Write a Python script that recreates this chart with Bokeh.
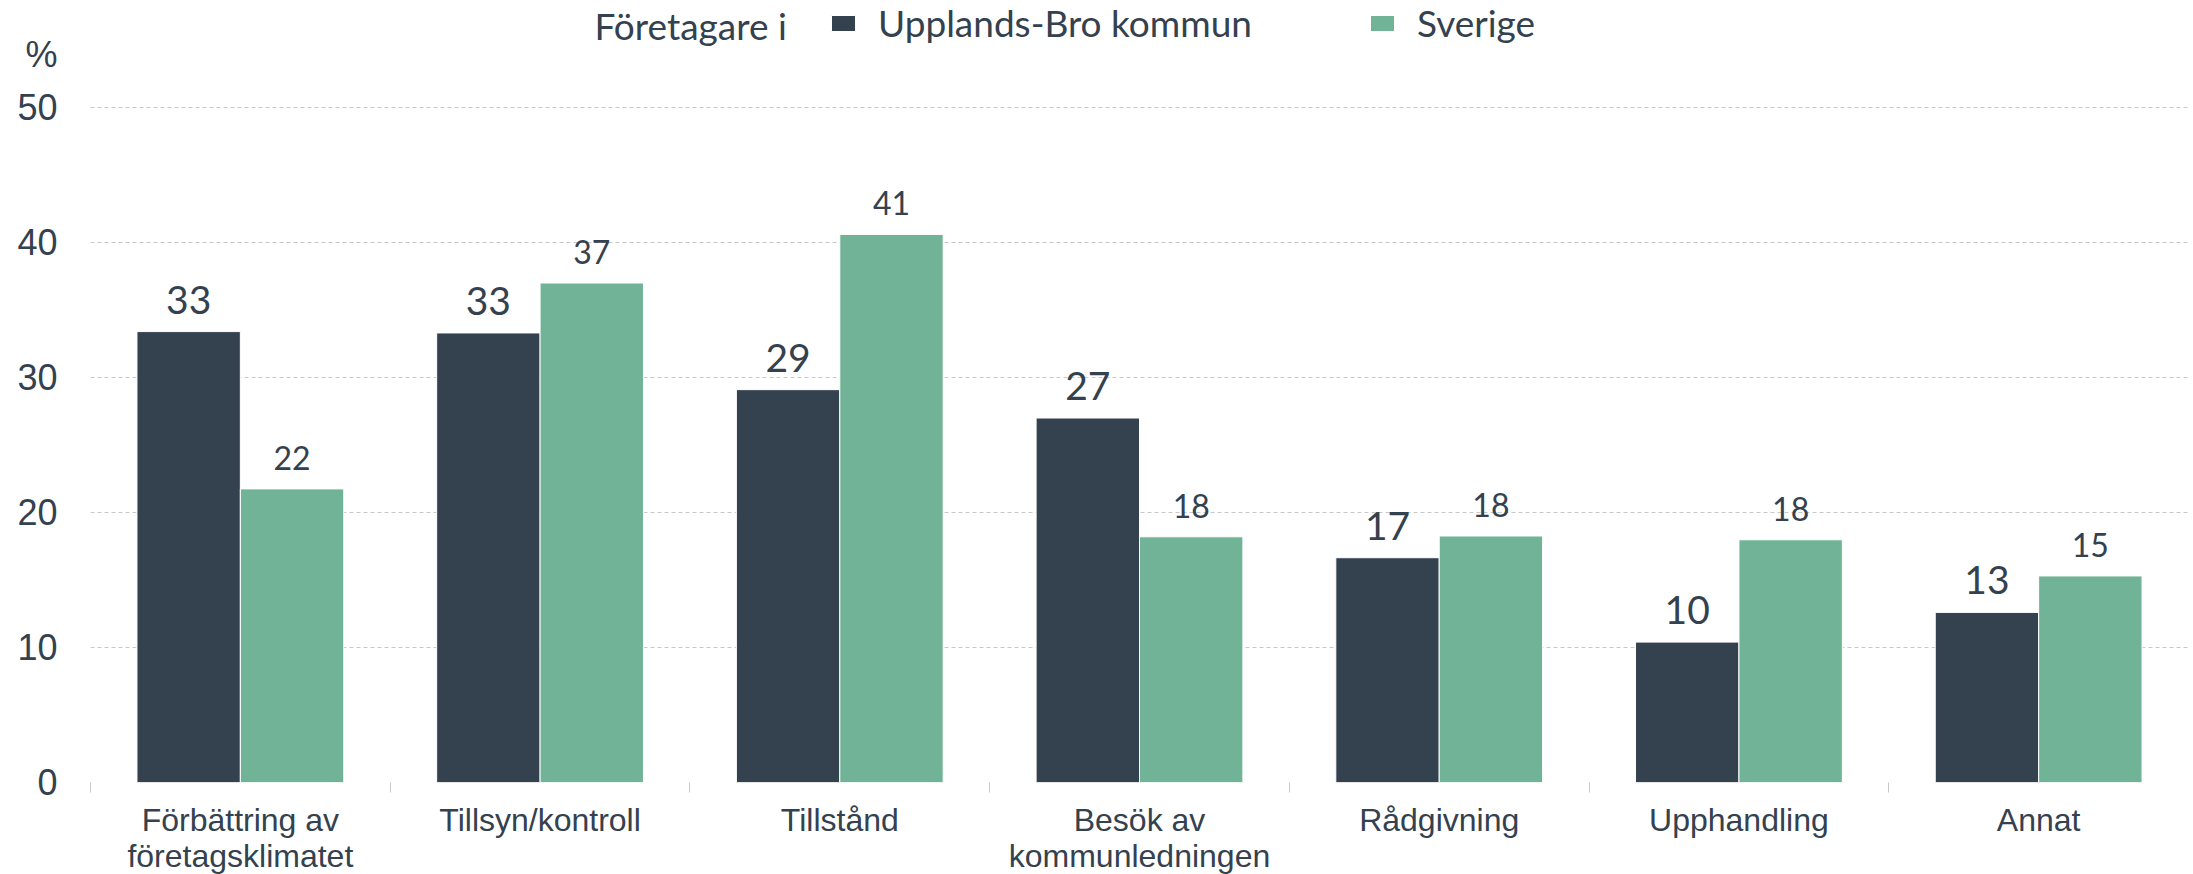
import numpy as np
from bokeh.plotting import figure
from bokeh.models import (ColumnDataSource, Range1d, FixedTicker, Legend,
                          LegendItem, Label)
from bokeh.transform import dodge
from bokeh.core.properties import value
from bokeh.embed import file_html
from bokeh.resources import INLINE

# ---- data ----
categories = ["Förbättring av\nföretagsklimatet", "Tillsyn/kontroll", "Tillstånd",
              "Besök av\nkommunledningen", "Rådgivning", "Upphandling", "Annat"]
bro = [33.4, 33.3, 29.1, 27.0, 16.65, 10.4, 12.6]
sverige = [21.75, 37.0, 40.6, 18.2, 18.26, 17.98, 15.3]
series_names = ["Upplands-Bro kommun", "Sverige"]
legend_title = "Företagare i"
y_ticks = [0, 10, 20, 30, 40, 50]
unit_label = "%"

DARK = "#34414e"
GREEN = "#71b396"
TEXT = "#34414e"
GRID = "#c8c8c8"

# ---- layout constants ----
PX_PER_UNIT = 13.5
FRAME_H = 782
Y_TOP = FRAME_H / PX_PER_UNIT          # frame reaches the top of the page
UNIT_Y = (FRAME_H - 54) / PX_PER_UNIT  # where the "%" sits
LEGEND_Y = (FRAME_H - 25) / PX_PER_UNIT

n = len(categories)
centers = np.arange(n) + 0.5
src = ColumnDataSource(dict(
    x=centers,
    bro=bro,
    sve=sverige,
    bro_lbl=[str(int(v + 0.5)) for v in bro],
    sve_lbl=[str(int(v + 0.5)) for v in sverige],
))

p = figure(frame_width=2098, frame_height=FRAME_H,
           x_range=Range1d(0, n), y_range=Range1d(0, Y_TOP),
           output_backend="svg", toolbar_location=None,
           min_border_left=90, min_border_top=0, min_border_right=0,
           min_border_bottom=10)
p.title.visible = False
p.outline_line_color = None
p.background_fill_color = "white"

bw = 0.345
off = bw / 2
r1 = p.vbar(x=dodge('x', -off, range=p.x_range), top='bro', width=bw, source=src,
            fill_color=DARK, line_color="white", line_width=1)
r2 = p.vbar(x=dodge('x', off, range=p.x_range), top='sve', width=bw, source=src,
            fill_color=GREEN, line_color="white", line_width=1)

p.text(x=dodge('x', -off, range=p.x_range), y='bro', text='bro_lbl', source=src,
       text_align='center', text_baseline='middle', y_offset=-32,
       text_font=value("Lato"), text_font_size="39px", text_color=TEXT)
p.text(x=dodge('x', off, range=p.x_range), y='sve', text='sve_lbl', source=src,
       text_align='center', text_baseline='middle', y_offset=-31,
       text_font=value("Lato"), text_font_size="32px", text_color=TEXT)

# grid
p.xgrid.visible = False
p.ygrid.ticker = FixedTicker(ticks=y_ticks)
p.ygrid.grid_line_color = GRID
p.ygrid.grid_line_dash = "4 3"
p.ygrid.grid_line_width = 1

# y axis (the unit "%" sits above the top tick)
p.yaxis.ticker = FixedTicker(ticks=y_ticks + [UNIT_Y])
p.yaxis.major_label_overrides = {UNIT_Y: unit_label}
p.yaxis.axis_line_color = None
p.yaxis.major_tick_line_color = None
p.yaxis.minor_tick_line_color = None
p.yaxis.major_tick_out = 0
p.yaxis.major_tick_in = 0
p.yaxis.major_label_standoff = 33
p.yaxis.major_label_text_font = "Liberation Sans"
p.yaxis.major_label_text_font_size = "36px"
p.yaxis.major_label_text_color = TEXT

# x axis: labels at category centres, small ticks at category boundaries
p.xaxis.ticker = FixedTicker(ticks=list(centers), minor_ticks=list(range(n + 1)))
p.xaxis.major_label_overrides = {float(c): lab for c, lab in zip(centers, categories)}
p.xaxis.axis_line_color = None
p.xaxis.major_tick_line_color = None
p.xaxis.major_tick_out = 0
p.xaxis.major_tick_in = 0
p.xaxis.minor_tick_line_color = GRID
p.xaxis.minor_tick_out = 10
p.xaxis.minor_tick_in = 0
p.xaxis.major_label_standoff = 9
p.xaxis.major_label_text_font = "Liberation Sans"
p.xaxis.major_label_text_font_size = "32px"
p.xaxis.major_label_text_color = TEXT
p.xaxis.major_label_text_line_height = 1.0

# legend (inside the frame, above the grid)
legend = Legend(items=[LegendItem(label=series_names[0], renderers=[r1]),
                       LegendItem(label=series_names[1], renderers=[r2])],
                orientation="horizontal", location=(738, 737),
                padding=0, margin=0, border_line_color=None,
                background_fill_alpha=0, glyph_width=30, glyph_height=20,
                label_standoff=20, spacing=0, label_width=489,
                label_text_font="Lato", label_text_font_size="37px",
                label_text_color=TEXT)
p.add_layout(legend)

p.add_layout(Label(x=0, y=LEGEND_Y, x_offset=504, text=legend_title,
                   text_align="left", text_baseline="middle",
                   text_font="Lato", text_font_size="37px", text_color=TEXT))

open("out.html", "w").write(file_html(p, INLINE))
